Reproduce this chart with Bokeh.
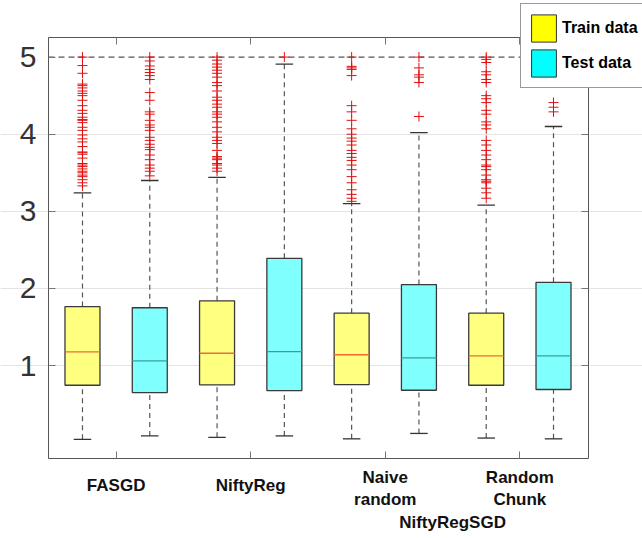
from bokeh.plotting import figure
from bokeh.models import (Range1d, FixedTicker, LinearAxis, Legend, LegendItem,
                          ColumnDataSource)
from bokeh.embed import file_html
from bokeh.resources import INLINE

# ---------------- data ----------------
groups = ["FASGD", "NiftyReg", "Naive\nrandom", "Random\nChunk"]
super_group = "NiftyRegSGD"          # spans the last two groups
series = ["Train data", "Test data"]

train_q1 = [0.745, 0.75, 0.754, 0.745]
train_med = [1.178, 1.16, 1.14, 1.126]
train_q3 = [1.765, 1.84, 1.68, 1.68]
train_lo = [0.044, 0.07, 0.05, 0.06]
train_hi = [3.24, 3.44, 3.10, 3.08]

test_q1 = [0.65, 0.676, 0.68, 0.69]
test_med = [1.06, 1.18, 1.10, 1.126]
test_q3 = [1.75, 2.39, 2.05, 2.08]
test_lo = [0.088, 0.088, 0.12, 0.05]
test_hi = [3.40, 4.91, 4.02, 4.10]

train_out = [
    [5.0, 4.89, 4.79, 4.65, 4.63, 4.6, 4.56, 4.53, 4.5, 4.44, 4.37, 4.31, 4.27, 4.22,
     4.19, 4.18, 4.15, 4.09, 4.05, 3.99, 3.94, 3.9, 3.84, 3.77, 3.76, 3.74, 3.69, 3.62,
     3.6, 3.58, 3.55, 3.52, 3.5, 3.47, 3.45, 3.41, 3.37, 3.33],
    [5.0, 4.96, 4.91, 4.87, 4.83, 4.79, 4.74, 4.67, 4.63, 4.56, 4.48, 4.44, 4.39, 4.35,
     4.29, 4.26, 4.22, 4.16, 4.09, 4.03, 3.96, 3.92, 3.88, 3.79, 3.71, 3.69, 3.67, 3.62,
     3.6, 3.56, 3.52],
    [5.0, 4.88, 4.86, 4.84, 4.76, 4.37, 4.29, 4.18, 4.07, 4.0, 3.95, 3.91, 3.86, 3.79,
     3.75, 3.7, 3.66, 3.6, 3.54, 3.45, 3.37, 3.28, 3.22, 3.17, 3.13],
    [5.0, 4.97, 4.93, 4.81, 4.77, 4.71, 4.67, 4.5, 4.46, 4.41, 4.31, 4.26, 4.16, 4.12,
     4.07, 3.92, 3.86, 3.79, 3.73, 3.67, 3.6, 3.58, 3.54, 3.47, 3.41, 3.39, 3.37, 3.3,
     3.24, 3.17],
]
test_out = [
    [5.0, 4.95, 4.885, 4.84, 4.8, 4.76, 4.71, 4.54, 4.44, 4.29, 4.26, 4.18, 4.12, 4.09,
     4.05, 3.96, 3.92, 3.87, 3.83, 3.8, 3.73, 3.67, 3.6, 3.56, 3.52, 3.46],
    [5.0],
    [5.0, 4.86, 4.77, 4.74, 4.67, 4.23],
    [4.41, 4.35, 4.29],
]

y_ticks = [1, 2, 3, 4, 5]
grid_ticks = [1, 2, 3, 4]
ref_line = 5

# ---------------- layout / styling ----------------
FONT = "Liberation Sans"
TRAIN_FILL = "#ffff80"
TEST_FILL = "#80ffff"
TRAIN_SWATCH = "#ffff00"
TEST_SWATCH = "#00ffff"
TRAIN_MED = "#f06a3c"
TEST_MED = "#3c9c9c"
BOX_LINE = "#3a3a3a"
WHISK = "#555555"
FRAME_COL = "#555555"

BOX_W = 0.52
CAP_W = 0.26

# axes box (data units) and its pixel placement inside the canvas
BOX_X0, BOX_X1 = 0.495, 8.52
BOX_Y0, BOX_Y1 = -0.205, 5.254
W, H = 642, 538
PL, PR, PT, PB = 48, 54, 37, 80          # pixels around the axes box
kx = (W - PL - PR) / (BOX_X1 - BOX_X0)
ky = (H - PT - PB) / (BOX_Y1 - BOX_Y0)

p = figure(frame_width=W, frame_height=H, output_backend="svg",
           toolbar_location=None,
           x_range=Range1d(BOX_X0 - PL / kx, BOX_X1 + PR / kx),
           y_range=Range1d(BOX_Y0 - PB / ky, BOX_Y1 + PT / ky),
           min_border=0)
p.background_fill_color = "white"
p.border_fill_color = "white"
p.outline_line_color = None

# grid limited to the axes box
p.xgrid.visible = False
p.ygrid.ticker = FixedTicker(ticks=grid_ticks)
p.ygrid.bounds = (BOX_X0, BOX_X1)
p.ygrid.grid_line_color = "#e4e4e4"
p.ygrid.grid_line_width = 1

group_centers = [2 * i + 1.5 for i in range(len(groups))]


def style_axis(ax, ticks, loc, bounds, labels=True):
    ax.ticker = FixedTicker(ticks=ticks)
    ax.fixed_location = loc
    ax.bounds = bounds
    ax.major_tick_in = 7
    ax.major_tick_out = 0
    ax.minor_tick_line_color = None
    ax.axis_line_color = FRAME_COL
    ax.axis_line_width = 1
    ax.major_tick_line_color = "#777777"
    if not labels:
        ax.major_label_text_color = None


# left axis: values
yax = p.yaxis[0]
style_axis(yax, y_ticks, BOX_X0, (BOX_Y0, BOX_Y1))
yax.major_label_text_font = FONT
yax.major_label_text_font_size = "30px"
yax.major_label_text_color = "#333333"
yax.major_label_standoff = 12

# bottom axis: ticks + single-line group labels
xax = p.xaxis[0]
style_axis(xax, group_centers, BOX_Y0, (BOX_X0, BOX_X1))
xax.major_label_overrides = {c: (g if "\n" not in g else "")
                             for c, g in zip(group_centers, groups)}


def label_axis(ax, standoff):
    ax.major_label_text_font = FONT
    ax.major_label_text_font_style = "bold"
    ax.major_label_text_font_size = "17px"
    ax.major_label_text_color = "#111111"
    ax.major_label_standoff = standoff


label_axis(xax, 17)

# second bottom layer: two-line group labels
multi_ax = LinearAxis()
style_axis(multi_ax, group_centers, BOX_Y0, (BOX_X0, BOX_X1))
multi_ax.axis_line_color = None
multi_ax.major_tick_line_color = None
multi_ax.major_label_overrides = {c: (g if "\n" in g else "")
                                  for c, g in zip(group_centers, groups)}
label_axis(multi_ax, 9)
p.add_layout(multi_ax, "below")

# third layer: super group label
sg_pos = (group_centers[2] + group_centers[3]) / 2
sg_ax = LinearAxis()
style_axis(sg_ax, [sg_pos], BOX_Y0, (BOX_X0, BOX_X1))
sg_ax.axis_line_color = None
sg_ax.major_tick_line_color = None
sg_ax.major_label_overrides = {sg_pos: super_group}
label_axis(sg_ax, 54)
p.add_layout(sg_ax, "below")

# top and right box sides with inward ticks
top_ax = LinearAxis()
style_axis(top_ax, group_centers, BOX_Y1, (BOX_X0, BOX_X1), labels=False)
p.add_layout(top_ax, "above")
right_ax = LinearAxis()
style_axis(right_ax, y_ticks, BOX_X1, (BOX_Y0, BOX_Y1), labels=False)
p.add_layout(right_ax, "right")

# reference dashed line across the axes box
p.segment(x0=[BOX_X0], x1=[BOX_X1], y0=[ref_line], y1=[ref_line],
          line_color="#555555", line_dash="6 4", line_width=1.3)


def draw(xs, q1, med, q3, lo, hi, outs, fill, med_color):
    src = ColumnDataSource(dict(
        x=xs, q1=q1, med=med, q3=q3, lo=lo, hi=hi,
        x0=[x - BOX_W / 2 for x in xs], x1=[x + BOX_W / 2 for x in xs],
        c0=[x - CAP_W / 2 for x in xs], c1=[x + CAP_W / 2 for x in xs]))
    p.segment(x0="x", x1="x", y0="q3", y1="hi", source=src, line_color=WHISK,
              line_dash="5 4", line_width=1.2)
    p.segment(x0="x", x1="x", y0="lo", y1="q1", source=src, line_color=WHISK,
              line_dash="5 4", line_width=1.2)
    p.segment(x0="c0", x1="c1", y0="hi", y1="hi", source=src, line_color="#333333",
              line_width=1.3)
    p.segment(x0="c0", x1="c1", y0="lo", y1="lo", source=src, line_color="#333333",
              line_width=1.3)
    p.vbar(x="x", width=BOX_W, bottom="q1", top="q3", source=src, fill_color=fill,
           line_color=BOX_LINE, line_width=1.3)
    p.segment(x0="x0", x1="x1", y0="med", y1="med", source=src, line_color=med_color,
              line_width=1.3)
    ox, oy = [], []
    for x, vals in zip(xs, outs):
        ox += [x] * len(vals)
        oy += vals
    p.scatter(ox, oy, marker="cross", size=10, line_color="#e01010", line_width=1)


train_x = [2 * i + 1 for i in range(len(groups))]
test_x = [2 * i + 2 for i in range(len(groups))]
draw(train_x, train_q1, train_med, train_q3, train_lo, train_hi, train_out,
     TRAIN_FILL, TRAIN_MED)
draw(test_x, test_q1, test_med, test_q3, test_lo, test_hi, test_out,
     TEST_FILL, TEST_MED)

# legend (swatch renderers hold no visible point)
nan = float("nan")
r_train = p.rect(x=[nan], y=[nan], width=1, height=1, fill_color=TRAIN_SWATCH,
                 line_color="#333333", line_width=1)
r_test = p.rect(x=[nan], y=[nan], width=1, height=1, fill_color=TEST_SWATCH,
                line_color="#333333", line_width=1)
legend = Legend(items=[LegendItem(label=series[0], renderers=[r_train]),
                       LegendItem(label=series[1], renderers=[r_test])],
                location=(520, 450), glyph_width=31, glyph_height=34,
                label_standoff=3, padding=7, spacing=1, margin=0,
                label_text_font=FONT, label_text_font_style="bold",
                label_text_font_size="16px", label_text_color="#000000",
                border_line_color="#333333", border_line_width=1,
                background_fill_color="white", background_fill_alpha=1)
p.add_layout(legend, "center")

open("out.html", "w").write(file_html(p, INLINE))
